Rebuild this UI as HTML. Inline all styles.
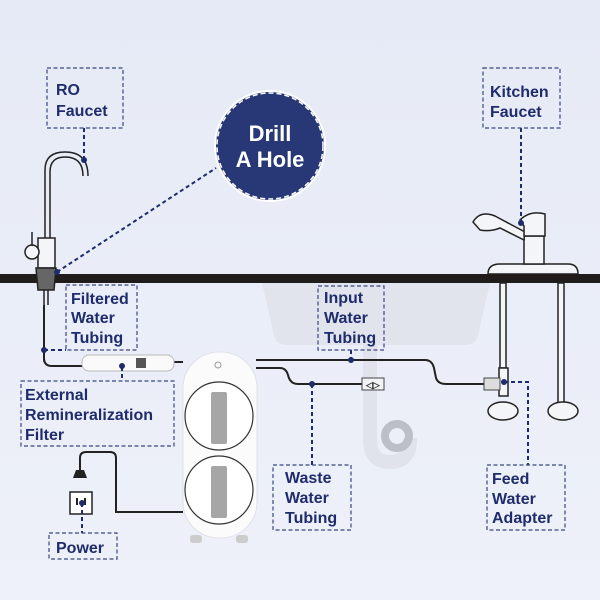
<!DOCTYPE html>
<html><head><meta charset="utf-8"><style>
html,body{margin:0;padding:0;width:600px;height:600px;overflow:hidden;background:#e9edf7}
svg{display:block}
text{font-family:"Liberation Sans",sans-serif;font-weight:bold;fill:#1f2c6c;font-size:16px}
</style></head><body>
<svg width="600" height="600" viewBox="0 0 600 600" xmlns="http://www.w3.org/2000/svg">
<defs><linearGradient id="bg" x1="0" y1="0" x2="0" y2="1"><stop offset="0" stop-color="#e6eaf6"/><stop offset="1" stop-color="#eef1f9"/></linearGradient></defs>
<rect width="600" height="600" fill="url(#bg)"/>
<!-- sink -->
<path d="M262 283 H490 L478 335 Q476 345 466 345 H286 Q276 345 274 335 Z" fill="#e1e4ec"/>
<path d="M370 345 V440 Q370 462 390 462 Q410 462 410 440 V438" fill="none" stroke="#e0e3eb" stroke-width="14"/>
<circle cx="397" cy="436" r="12" fill="none" stroke="#bcbfc7" stroke-width="8"/>
<!-- counter -->
<rect x="0" y="274" width="600" height="9" fill="#211c1c"/>
<!-- RO faucet -->
<g fill="none" stroke="#222" stroke-width="1.5">
<path d="M45 240 V170 Q45 152 65 152 Q88 152 88 176"/>
<path d="M50 240 V172 Q50 157 65 157 Q83 157 83 176"/>
<rect x="38" y="238" width="17" height="30" fill="#f4f5f8"/>
<circle cx="32" cy="252" r="7" fill="#f4f5f8"/>
<line x1="32" y1="232" x2="32" y2="246"/>
<path d="M36 268 H56 L54 290 H38 Z" fill="#666"/>
<line x1="44" y1="290" x2="44" y2="362"/><line x1="48" y1="290" x2="48" y2="305"/>
</g>
<path d="M44 305 V358 Q44 366 52 366 H82" fill="none" stroke="#222" stroke-width="2"/>
<!-- kitchen faucet -->
<g fill="#f4f5f8" stroke="#222" stroke-width="1.5">
<path d="M488 274 Q488 264 500 264 H568 Q578 264 578 274 Z"/>
<rect x="524" y="236" width="20" height="28"/>
<path d="M473 222 Q480 210 495 216 L525 232 L524 240 L500 228 Q490 232 480 230 Z"/>
<path d="M520 220 Q530 210 545 214 V236 H524 V226 Z"/>
<rect x="500" y="283" width="6" height="85"/><rect x="558" y="283" width="6" height="120"/>
<ellipse cx="503" cy="411" rx="15" ry="9"/><ellipse cx="563" cy="411" rx="15" ry="9"/>
<rect x="499" y="368" width="9" height="28"/>
</g>
<!-- tubing -->
<g fill="none" stroke="#222" stroke-width="2">
<path d="M172 362 H183"/>
<path d="M256 360 H425 Q432 360 434 368 L436 378 Q438 384 446 384 H486"/>
<path d="M256 368 H280 Q286 368 288 375 Q290 384 298 384 H362"/>
<path d="M183 512 H116 V458 Q116 452 110 452 H86 Q80 452 80 458 V470"/>
</g>
<rect x="362" y="378" width="22" height="12" fill="#f2f3f6" stroke="#444"/>
<text x="366" y="388" style="font-size:9px;fill:#333">◁▷</text>
<rect x="484" y="378" width="16" height="12" fill="#ddd" stroke="#444"/>
<!-- filter -->
<rect x="82" y="355" width="92" height="16" rx="7" fill="#fafafa" stroke="#bbb"/>
<rect x="136" y="358" width="10" height="10" fill="#555"/>
<!-- plug & outlet -->
<path d="M76 470 h8 l3 8 h-14 z" fill="#222"/>
<rect x="70" y="492" width="22" height="22" fill="#fff" stroke="#222" stroke-width="1.5"/>
<line x1="77" y1="498" x2="77" y2="505" stroke="#222" stroke-width="2"/><line x1="85" y1="498" x2="85" y2="505" stroke="#222" stroke-width="2"/>
<!-- unit -->
<rect x="183" y="352" width="74" height="186" rx="36" fill="#fbfbfc" stroke="#e0e2e8"/>
<rect x="190" y="535" width="12" height="8" rx="3" fill="#ccc"/><rect x="236" y="535" width="12" height="8" rx="3" fill="#ccc"/>
<circle cx="218" cy="365" r="3" fill="none" stroke="#999"/>
<circle cx="219" cy="416" r="34" fill="#fff" stroke="#333" stroke-width="1.2"/>
<circle cx="219" cy="490" r="34" fill="#fff" stroke="#333" stroke-width="1.2"/>
<rect x="211" y="392" width="16" height="52" rx="2" fill="#a6a6a6"/>
<rect x="211" y="466" width="16" height="52" rx="2" fill="#a6a6a6"/>
<!-- dashed connectors -->
<g fill="none" stroke="#1f2c6c" stroke-width="2" stroke-dasharray="4,3">
<path d="M84 128 V160"/>
<path d="M57 272 L216 168"/>
<path d="M521 128 V223"/>
<path d="M44 350 H66"/>
<path d="M351 350 V360"/>
<path d="M122 367 V381"/>
<path d="M312 384 V465"/>
<path d="M504 382 H528 V465"/>
<path d="M82 503 V533"/>
</g>
<g fill="#1f2c6c">
<circle cx="84" cy="160" r="3"/><circle cx="57" cy="272" r="3"/><circle cx="521" cy="223" r="3"/>
<circle cx="44" cy="350" r="3"/><circle cx="351" cy="360" r="3"/><circle cx="122" cy="366" r="3"/>
<circle cx="312" cy="384" r="3"/><circle cx="504" cy="382" r="3"/><circle cx="82" cy="503" r="3"/>
</g>
<!-- drill circle -->
<circle cx="270" cy="146" r="55" fill="#283877" stroke="#fff" stroke-width="2"/>
<circle cx="270" cy="146" r="53" fill="none" stroke="#fff" stroke-width="1.5" stroke-dasharray="5,3"/>
<text x="270" y="141" text-anchor="middle" style="fill:#fff;font-size:22px">Drill</text>
<text x="270" y="167" text-anchor="middle" style="fill:#fff;font-size:22px">A Hole</text>
<!-- label boxes -->
<g fill="none" stroke="#3a4680" stroke-width="1.2" stroke-dasharray="4,2.5">
<rect x="47" y="68" width="76" height="60"/>
<rect x="483" y="68" width="77" height="60"/>
<rect x="66" y="285" width="71" height="65"/>
<rect x="318" y="286" width="66" height="64"/>
<rect x="21" y="381" width="153" height="65"/>
<rect x="273" y="465" width="78" height="65"/>
<rect x="487" y="465" width="78" height="65"/>
<rect x="49" y="533" width="68" height="26"/>
</g>
<text x="56" y="95">RO</text><text x="56" y="116">Faucet</text>
<text x="490" y="97">Kitchen</text><text x="490" y="117">Faucet</text>
<text x="71" y="304">Filtered</text><text x="71" y="323">Water</text><text x="71" y="343">Tubing</text>
<text x="324" y="303">Input</text><text x="324" y="323">Water</text><text x="324" y="343">Tubing</text>
<text x="25" y="400">External</text><text x="25" y="420">Remineralization</text><text x="25" y="440">Filter</text>
<text x="285" y="483">Waste</text><text x="285" y="503">Water</text><text x="285" y="523">Tubing</text>
<text x="492" y="484">Feed</text><text x="492" y="504">Water</text><text x="492" y="523">Adapter</text>
<text x="56" y="553">Power</text>
</svg>
</body></html>
